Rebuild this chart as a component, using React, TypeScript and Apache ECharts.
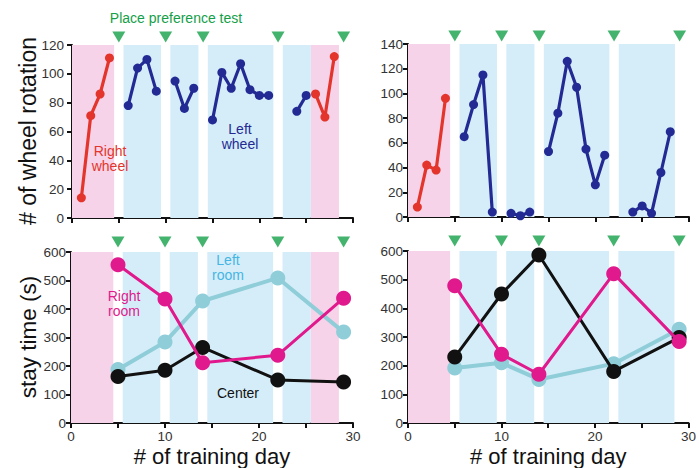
import React, { useEffect, useRef } from "react";
import * as echarts from "echarts";

// Training days 1–28 (wheel running sessions)
const days = [1, 2, 3, 4, 5, 6, 7, 8, 9, 10, 11, 12, 13, 14, 15, 16, 17, 18, 19, 20, 21, 22, 23, 24, 25, 26, 27, 28];

// Mouse 1 wheel rotations (null = no session with that wheel)
const rightWheelM1 = [14, 71, 86, 111, null, null, null, null, null, null, null, null, null, null, null, null, null, null, null, null, null, null, null, null, null, 86, 70, 112];
const leftWheelM1 = [null, null, null, null, null, 78, 104, 110, 88, null, 95, 76, 90, null, 68, 101, 90, 107, 89, 85, 85, null, null, 74, 85, null, null, null];

// Mouse 2 wheel rotations
const rightWheelM2 = [8, 42, 38, 96, null, null, null, null, null, null, null, null, null, null, null, null, null, null, null, null, null, null, null, null, null, null, null, null];
const leftWheelM2 = [null, null, null, null, null, 65, 91, 115, 4, null, 3, 1, 4, null, 53, 84, 126, 105, 55, 26, 50, null, null, 4, 9, 3, 36, 69];

// Place preference test days and stay times (s)
const testDays = [5, 10, 14, 22, 29];
const rightRoomM1 = [555, 435, 211, 238, 438];
const leftRoomM1 = [188, 284, 428, 509, 319];
const centerM1 = [163, 185, 265, 151, 144];
const rightRoomM2 = [479, 240, 170, 521, 284];
const leftRoomM2 = [192, 210, 152, 207, 327];
const centerM2 = [230, 450, 586, 180, 298];

// Training phases: which wheel was available
const rightPhasesM1 = [[0, 4.5], [25.5, 28.5]];
const leftPhasesM1 = [[5.5, 9.5], [10.5, 13.5], [14.5, 21.5], [22.5, 25.5]];
const rightPhasesM2 = [[0, 4.5]];
const leftPhasesM2 = [[5.5, 9.5], [10.5, 13.5], [14.5, 21.5], [22.5, 28.5]];

const RED = "#e3352c";
const NAVY = "#232a93";
const MAGENTA = "#e0198c";
const LIGHTBLUE = "#8fcdd8";
const PINK_BAND = "#f6d3e8";
const BLUE_BAND = "#d5edf9";
const GREEN = "#14a048";
const FONT = "Liberation Sans, Arial, sans-serif";

function segments(values: (number | null)[]) {
  const out: number[][][] = [];
  let cur: number[][] = [];
  values.forEach((v, i) => {
    if (v === null) {
      if (cur.length) out.push(cur);
      cur = [];
    } else {
      cur.push([days[i], v]);
    }
  });
  if (cur.length) out.push(cur);
  return out;
}

function wheelSeries(values: (number | null)[], color: string, idx: number) {
  return segments(values).map((seg) => ({
    type: "line",
    xAxisIndex: idx,
    yAxisIndex: idx,
    data: seg,
    symbol: "circle",
    symbolSize: 9,
    lineStyle: { color, width: 3.2 },
    itemStyle: { color },
    z: 5,
  }));
}

function testSeries(values: number[], color: string, idx: number, width: number, z: number) {
  return {
    type: "line",
    xAxisIndex: idx,
    yAxisIndex: idx,
    data: testDays.map((d, i) => [d, values[i]]),
    symbol: "circle",
    symbolSize: 15,
    lineStyle: { color, width },
    itemStyle: { color },
    z,
  };
}

function bandSeries(pink: number[][], blue: number[][], idx: number) {
  return {
    type: "line",
    xAxisIndex: idx,
    yAxisIndex: idx,
    data: [],
    silent: true,
    z: 1,
    markArea: {
      silent: true,
      data: [
        ...pink.map((b) => [{ xAxis: b[0], itemStyle: { color: PINK_BAND } }, { xAxis: b[1] }]),
        ...blue.map((b) => [{ xAxis: b[0], itemStyle: { color: BLUE_BAND } }, { xAxis: b[1] }]),
      ],
    },
  };
}

function markerSeries(idx: number, yMax: number, offset: number) {
  return {
    type: "scatter",
    xAxisIndex: idx,
    yAxisIndex: idx,
    data: testDays.map((d) => [d, yMax]),
    symbol: "path://M0,0 L12,0 L6,10 Z",
    symbolSize: [13, 11],
    symbolOffset: [0, offset],
    itemStyle: { color: GREEN },
    clip: false,
    silent: true,
    z: 10,
  };
}

const grids = [
  { left: 72, top: 45, width: 281, height: 173 },
  { left: 408, top: 44, width: 281, height: 173 },
  { left: 71, top: 252, width: 282, height: 172 },
  { left: 408, top: 251, width: 281, height: 172 },
];
const yMaxes = [120, 140, 600, 600];
const yIntervals = [20, 20, 100, 100];
const yLabelMargins = [8, 5, 5, 5];

export default function App() {
  const ref = useRef<HTMLDivElement>(null);

  useEffect(() => {
    document.body.style.margin = "0";
    if (!ref.current) return;
    const chart = echarts.init(ref.current, undefined, { renderer: "svg" });

    const axisLine = { show: true, onZero: false, lineStyle: { color: "#111", width: 2 } };
    const axisTick = { show: true, length: 5, lineStyle: { color: "#111", width: 2 } };

    const xAxis = grids.map((_, i) => ({
      type: "value",
      gridIndex: i,
      min: 0,
      max: 30,
      interval: 5,
      axisLine,
      axisTick,
      splitLine: { show: false },
      axisLabel: {
        show: i >= 2,
        margin: 6,
        color: "#333",
        fontSize: 13.5,
        fontFamily: FONT,
        formatter: (v: number) => (v % 10 === 0 ? String(v) : ""),
      },
      name: i >= 2 ? "# of training day" : "",
      nameLocation: "middle",
      nameGap: 22,
      nameTextStyle: { color: "#111", fontSize: 22, fontFamily: FONT },
    }));

    const yAxis = grids.map((_, i) => ({
      type: "value",
      gridIndex: i,
      min: 0,
      max: yMaxes[i],
      interval: yIntervals[i],
      axisLine,
      axisTick,
      splitLine: { show: false },
      axisLabel: { margin: yLabelMargins[i], color: "#333", fontSize: 13.5, fontFamily: FONT },
    }));

    const series: any[] = [
      bandSeries(rightPhasesM1, leftPhasesM1, 0),
      bandSeries(rightPhasesM2, leftPhasesM2, 1),
      bandSeries(rightPhasesM1, leftPhasesM1, 2),
      bandSeries(rightPhasesM2, leftPhasesM2, 3),
      ...wheelSeries(rightWheelM1, RED, 0),
      ...wheelSeries(leftWheelM1, NAVY, 0),
      ...wheelSeries(rightWheelM2, RED, 1),
      ...wheelSeries(leftWheelM2, NAVY, 1),
      testSeries(leftRoomM1, LIGHTBLUE, 2, 4, 4),
      testSeries(centerM1, "#111", 2, 3, 5),
      testSeries(rightRoomM1, MAGENTA, 2, 3, 6),
      testSeries(leftRoomM2, LIGHTBLUE, 3, 4, 4),
      testSeries(centerM2, "#111", 3, 3, 5),
      testSeries(rightRoomM2, MAGENTA, 3, 3, 6),
      markerSeries(0, 120, -8),
      markerSeries(1, 140, -8),
      markerSeries(2, 600, -10),
      markerSeries(3, 600, -10),
    ];

    const txt = (x: number, y: number, text: string, fill: string, size: number, rotation = 0) => ({
      type: "text",
      x,
      y,
      rotation,
      z: 20,
      style: {
        text,
        fill,
        font: `${size}px ${FONT}`,
        align: "center",
        verticalAlign: "middle",
        lineHeight: size + 1,
      },
    });

    chart.setOption({
      animation: false,
      backgroundColor: "#ffffff",
      grid: grids.map((g) => ({ ...g, containLabel: false })),
      xAxis,
      yAxis,
      series,
      graphic: [
        txt(176, 18, "Place preference test", GREEN, 14),
        txt(28, 131, "# of wheel rotation", "#111", 23, Math.PI / 2),
        txt(28, 337, "stay time (s)", "#111", 22.5, Math.PI / 2),
        txt(110, 158, "Right\nwheel", RED, 14),
        txt(240, 136, "Left\nwheel", NAVY, 14),
        txt(124, 303, "Right\nroom", MAGENTA, 14),
        txt(228, 267, "Left\nroom", "#45b5e3", 14),
        txt(238, 393, "Center", "#111", 14),
      ],
    });

    return () => chart.dispose();
  }, []);

  return <div ref={ref} style={{ width: 699, height: 468 }} />;
}
